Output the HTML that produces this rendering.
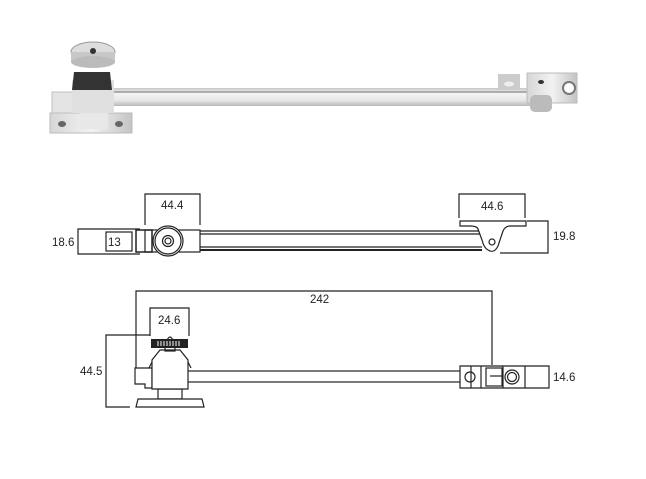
<!DOCTYPE html>
<html><head><style>html,body{margin:0;padding:0;background:#fff;}svg{display:block}</style></head>
<body>
<svg width="646" height="479" viewBox="0 0 646 479" xmlns="http://www.w3.org/2000/svg" font-family="Liberation Sans, sans-serif">
<defs>
<linearGradient id="rod" x1="0" y1="0" x2="0" y2="1">
<stop offset="0" stop-color="#c8c8c8"/><stop offset="0.3" stop-color="#f4f4f4"/><stop offset="0.7" stop-color="#e6e6e6"/><stop offset="1" stop-color="#b8b8b8"/></linearGradient>
<linearGradient id="met" x1="0" y1="0" x2="1" y2="0">
<stop offset="0" stop-color="#d6d6d6"/><stop offset="0.5" stop-color="#f2f2f2"/><stop offset="1" stop-color="#c4c4c4"/></linearGradient>
</defs>
<!-- Photo -->
<rect x="50" y="113" width="82" height="20" fill="url(#met)" stroke="#bbb"/>
<ellipse cx="62" cy="124" rx="4" ry="3" fill="#666"/><ellipse cx="119" cy="124" rx="4" ry="3" fill="#666"/>
<rect x="52" y="92" width="58" height="21" fill="#e4e4e4" stroke="#c0c0c0"/>
<rect x="110" y="88" width="432" height="18" fill="url(#rod)"/>
<line x1="110" y1="92" x2="540" y2="92" stroke="#999" stroke-width="1.5"/>
<rect x="72" y="80" width="42" height="33" fill="#e0e0e0"/>
<path d="M74 72 L110 72 L112 90 L72 90 Z" fill="#333"/>
<rect x="80" y="113" width="28" height="16" fill="#e8e8e8"/>
<ellipse cx="93" cy="52" rx="22" ry="10" fill="#ddd" stroke="#999"/>
<rect x="71" y="52" width="44" height="10" fill="#c8c8c8"/>
<ellipse cx="93" cy="62" rx="22" ry="6" fill="#bbb"/>
<ellipse cx="93" cy="51" rx="3" ry="3" fill="#333"/>
<rect x="527" y="73" width="50" height="30" fill="url(#met)" stroke="#bbb"/>
<rect x="498" y="74" width="22" height="16" fill="#ccc"/>
<ellipse cx="509" cy="84" rx="5" ry="2.5" fill="#eee"/>
<ellipse cx="541" cy="82" rx="3" ry="2" fill="#333"/>
<circle cx="569" cy="88" r="6" fill="#fff" stroke="#777" stroke-width="2"/>
<rect x="530" y="95" width="22" height="17" rx="5" fill="#bbb"/>

<!-- Middle drawing -->
<g fill="none" stroke="#222" stroke-width="1.2">
<path d="M145 225 V194 H200 V225"/>
<path d="M140 229 H78 V254 H140"/>
<rect x="106" y="232" width="26" height="19"/>
<path d="M459 218 V194 H525 V218"/>
<path d="M527 221 H548 V253 H500"/>
<rect x="136" y="230" width="16" height="22" stroke-width="1.5"/>
<rect x="145" y="230" width="55" height="22"/>
<line x1="200" y1="231" x2="482" y2="231"/>
<line x1="200" y1="234" x2="482" y2="234"/>
<line x1="200" y1="247" x2="482" y2="247"/>
<line x1="200" y1="250" x2="482" y2="250" stroke-width="2"/>
<circle cx="168" cy="241" r="15" fill="#fff"/>
<circle cx="168" cy="241" r="13"/>
<circle cx="168" cy="241" r="5.5"/>
<circle cx="168" cy="241" r="3"/>
<path d="M460 221 H526 V226 H510 Q504 226 502 234 L498 246 Q494 254 488 250 Q484 248 482 240 L478 229 Q477 226 470 226 H460 Z" fill="#fff"/>
<circle cx="492" cy="242" r="3"/>
</g>
<g font-size="11.5" fill="#222">
<text x="161" y="209">44.4</text>
<text x="52" y="246">18.6</text>
<text x="108" y="246">13</text>
<text x="481" y="210">44.6</text>
<text x="553" y="240">19.8</text>
<text x="310" y="303">242</text>
<text x="158" y="324">24.6</text>
<text x="80" y="375">44.5</text>
<text x="553" y="381">14.6</text>
</g>

<!-- Bottom drawing -->
<g fill="none" stroke="#222" stroke-width="1.2">
<path d="M136 368 V291 H492 V365"/>
<path d="M150 336 V308 H189 V336"/>
<path d="M150 335 H106 V407 H130"/>
<rect x="156" y="371" width="334" height="11" fill="#fff"/>
<path d="M135 368 H152 V388 H145 V384 H135 Z" fill="#fff"/>
<path d="M158 389 H182 V399 H158 Z" fill="#fff"/>
<path d="M138 399 H202 L204 407 H136 Z" fill="#fff"/>
<path d="M160 350 H180 L188 360 V389 H152 V360 Z" fill="#fff"/>
<path d="M152 362 L149 368 M188 362 L191 368"/>
<path d="M166 343 Q170 331 174 343" fill="#fff"/>
<rect x="165" y="346" width="10" height="5"/>
<path d="M460 366 H525 V388 H460 Z M525 366 H549 V388 H525" fill="#fff"/>
<line x1="471" y1="366" x2="471" y2="388"/>
<line x1="481" y1="366" x2="481" y2="388"/>
<line x1="503" y1="366" x2="503" y2="388"/>
<rect x="486" y="368" width="16" height="18"/>
<line x1="490" y1="376" x2="503" y2="376"/>
<circle cx="512" cy="377" r="7"/><circle cx="512" cy="377" r="4.5"/>
<circle cx="470" cy="377" r="5"/>
</g>
<rect x="151" y="339" width="37" height="9" fill="#222"/>
<g stroke="#fff" stroke-width="1">
<line x1="158" y1="341" x2="158" y2="346"/><line x1="161" y1="341" x2="161" y2="346"/><line x1="164" y1="341" x2="164" y2="346"/><line x1="167" y1="341" x2="167" y2="346"/><line x1="170" y1="341" x2="170" y2="346"/><line x1="173" y1="341" x2="173" y2="346"/><line x1="176" y1="341" x2="176" y2="346"/><line x1="179" y1="341" x2="179" y2="346"/>
</g>
</svg>
</body></html>
